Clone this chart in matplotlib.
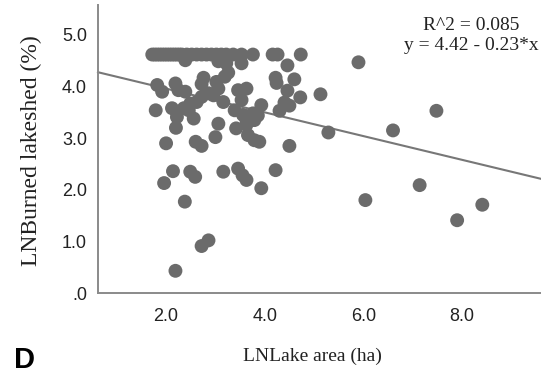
import matplotlib
matplotlib.use("Agg")
import matplotlib.pyplot as plt
import numpy as np

# LN lake area (ha) vs LN burned lakeshed (%)
lake_area = [
    # capped at the top
    1.72, 1.77, 1.82, 1.87, 1.92, 1.97, 2.02, 2.07, 2.12, 2.17, 2.22, 2.27, 2.32,
    2.42, 2.52, 2.62, 2.72, 2.82, 2.92, 3.02, 3.12, 3.22, 3.36, 3.53, 3.76, 4.16,
    4.26, 4.73,
    # just under the cap
    2.39, 3.06, 3.22, 3.53, 4.46, 3.26, 3.19, 3.02, 2.76, 2.72, 4.22, 4.24, 4.60,
    # larger lakes
    4.46, 4.72, 4.40, 4.30, 4.50, 5.13, 5.90, 5.29, 6.60, 7.48, 6.04, 7.14, 7.90,
    8.41,
    # left cluster
    1.82, 1.92, 2.19, 2.25, 2.39, 1.79, 2.12, 2.22, 2.20, 2.36, 2.46, 2.56, 2.49,
    2.62, 2.72, 2.86, 2.96, 3.06, 3.16, 3.06, 3.00, 2.00, 2.60, 2.72,
    # middle cluster
    3.46, 3.63, 3.53, 3.39, 3.56, 3.42, 3.63, 3.76, 3.93, 3.79, 3.66, 3.79, 3.89,
    4.50, 3.86, 3.63,
    # low values
    1.96, 2.14, 2.49, 2.59, 3.16, 3.46, 3.55, 3.63, 3.93, 4.22, 2.38, 2.72, 2.86,
    2.19,
]
burned = [
    4.62, 4.62, 4.62, 4.62, 4.62, 4.62, 4.62, 4.62, 4.62, 4.62, 4.62, 4.62, 4.62,
    4.62, 4.62, 4.62, 4.62, 4.62, 4.62, 4.62, 4.62, 4.62, 4.62, 4.62, 4.62, 4.62,
    4.62, 4.62,
    4.51, 4.49, 4.45, 4.45, 4.41, 4.27, 4.19, 4.09, 4.17, 4.05, 4.17, 4.07, 4.14,
    3.92, 3.79, 3.69, 3.53, 3.63, 3.85, 4.47, 3.11, 3.15, 3.53, 1.80, 2.09, 1.41,
    1.71,
    4.03, 3.90, 4.06, 3.93, 3.90, 3.54, 3.58, 3.41, 3.20, 3.58, 3.54, 3.38, 3.67,
    3.70, 3.80, 3.87, 3.83, 3.96, 3.70, 3.28, 3.02, 2.90, 2.93, 2.85,
    3.93, 3.96, 3.74, 3.54, 3.45, 3.19, 3.35, 3.48, 3.64, 3.35, 3.06, 2.96, 2.93,
    2.85, 3.44, 3.26,
    2.13, 2.36, 2.35, 2.25, 2.35, 2.41, 2.28, 2.19, 2.03, 2.38, 1.77, 0.91, 1.02,
    0.43,
]

intercept = 4.42
slope = -0.23
r_squared = 0.085

x_ticks = [2.0, 4.0, 6.0, 8.0]
x_labels = ["2.0", "4.0", "6.0", "8.0"]
y_ticks = [0.0, 1.0, 2.0, 3.0, 4.0, 5.0]
y_labels = [".0", "1.0", "2.0", "3.0", "4.0", "5.0"]

W, H = 541, 385
fig = plt.figure(figsize=(W / 100, H / 100), dpi=100)
ax = fig.add_axes([98 / W, (H - 293) / H, (W - 98) / W, 288 / H])

xlim = (0.62, 9.6)
ax.set_xlim(*xlim)
ax.set_ylim(0, 5.58)

ax.scatter(lake_area, burned, s=100, color="#6b6b6b", edgecolors="none", zorder=3)

# fit line across the whole x range
fx = np.array(xlim)
ax.plot(fx, intercept + slope * fx, color="#777777", lw=1.5, zorder=2, clip_on=False)

for side in ("top", "right"):
    ax.spines[side].set_visible(False)
for side in ("left", "bottom"):
    ax.spines[side].set_color("#8a8a8a")
    ax.spines[side].set_linewidth(1.4)

ax.set_xticks(x_ticks)
ax.set_xticklabels(x_labels)
ax.set_yticks(y_ticks)
ax.set_yticklabels(y_labels)
ax.tick_params(axis="both", length=0, labelsize=13, colors="#222222")
ax.tick_params(axis="x", pad=11)
ax.tick_params(axis="y", pad=8)
for lab in ax.get_xticklabels() + ax.get_yticklabels():
    lab.set_fontfamily("Liberation Sans")

serif = "Liberation Serif"
fig.text(312 / W, 1 - 356 / H, "LNLake area (ha)", family=serif, fontsize=14,
         ha="center", va="center", color="#222222")
fig.text(31 / W, 1 - 151 / H, "LNBurned lakeshed (%)", family=serif, fontsize=17,
         rotation=90, ha="center", va="center", color="#222222")
fig.text(471 / W, 1 - 25 / H, "R^2 = %.3f" % r_squared, family=serif, fontsize=14,
         ha="center", va="center", color="#222222")
fig.text(471 / W, 1 - 46 / H, "y = %.2f - %.2f*x" % (intercept, -slope), family=serif,
         fontsize=14, ha="center", va="center", color="#222222")
fig.text(24 / W, 1 - 360 / H, "D", family="Liberation Sans", fontweight="bold",
         fontsize=21, ha="center", va="center", color="black")

fig.savefig("out.png", dpi=100)
